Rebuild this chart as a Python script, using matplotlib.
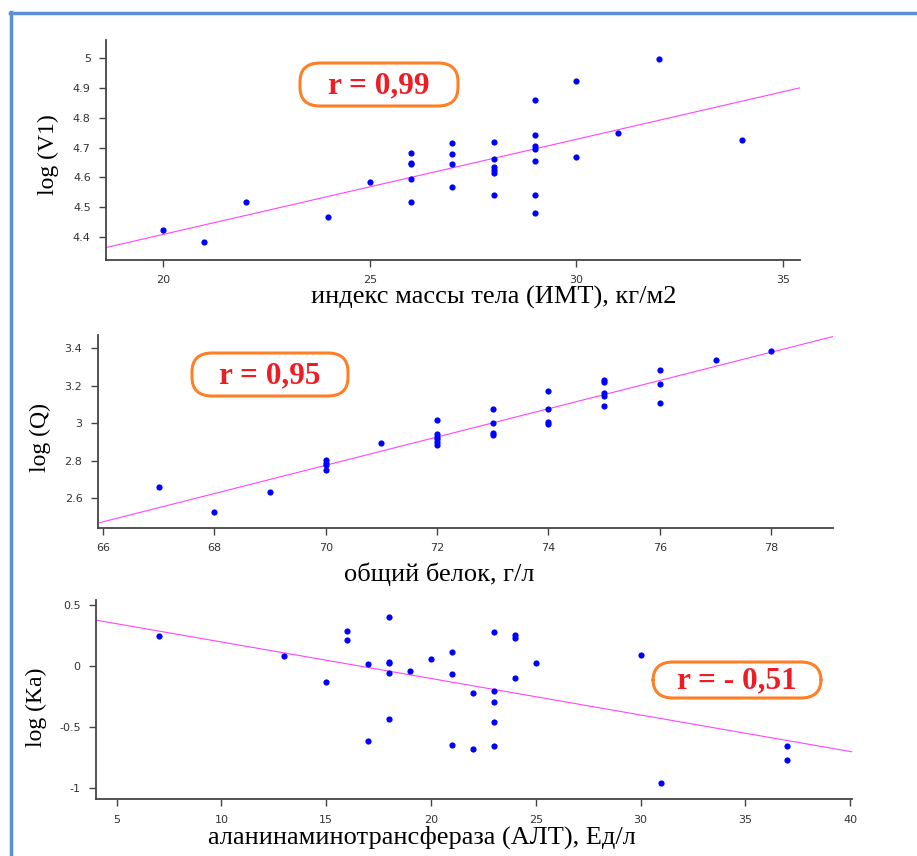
import numpy as np
import matplotlib
matplotlib.use('Agg')
import matplotlib.pyplot as plt
from matplotlib.patches import FancyBboxPatch
from matplotlib.lines import Line2D

# --- данные ---
imt_x = [20, 21, 22, 24, 25,
         26, 26, 26, 26, 26,
         27, 27, 27, 27,
         28, 28, 28, 28, 28, 28,
         29, 29, 29, 29, 29, 29, 29,
         30, 30, 31, 32, 34]
imt_y = [4.424, 4.381, 4.518, 4.465, 4.585,
         4.682, 4.648, 4.645, 4.594, 4.516,
         4.714, 4.679, 4.645, 4.568,
         4.720, 4.663, 4.635, 4.626, 4.616, 4.542,
         4.861, 4.743, 4.705, 4.697, 4.654, 4.542, 4.479,
         4.924, 4.669, 4.749, 4.999, 4.726]
imt_line = (3.768, 0.0320)   # intercept, slope

prot_x = [67, 68, 69,
          70, 70, 70, 70, 71,
          72, 72, 72, 72, 72, 72,
          73, 73, 73, 73,
          74, 74, 74, 74,
          75, 75, 75, 75, 75,
          76, 76, 76, 77, 78]
prot_y = [2.662, 2.525, 2.635,
          2.804, 2.790, 2.776, 2.751, 2.895,
          3.016, 2.945, 2.929, 2.916, 2.902, 2.884,
          3.075, 3.003, 2.947, 2.936,
          3.171, 3.075, 3.009, 2.998,
          3.231, 3.220, 3.160, 3.146, 3.092,
          3.283, 3.208, 3.108, 3.336, 3.386]
prot_line = (-2.502, 0.0754)

alt_x = [7, 13, 15, 16, 16, 17, 17,
         18, 18, 18, 18, 18, 19, 20,
         21, 21, 21, 22, 22,
         23, 23, 23, 23, 23,
         24, 24, 24, 25, 30, 31, 37, 37]
alt_y = [0.243, 0.079, -0.133, 0.284, 0.210, 0.014, -0.611,
         0.398, 0.033, 0.025, -0.057, -0.434, -0.043, 0.057,
         0.112, -0.068, -0.649, -0.221, -0.682,
         0.281, -0.202, -0.295, -0.458, -0.655,
         0.254, 0.227, -0.096, 0.027, 0.090, -0.957, -0.655, -0.772]
alt_line = (0.496, -0.02986)

W, H = 917, 856
fig = plt.figure(figsize=(W / 100, H / 100), dpi=100)
fig.patch.set_facecolor('white')

def fx(px):
    return px / W

def fy(py):
    return 1 - py / H

def make_axes(l, r, t, b):
    ax = fig.add_axes([fx(l), fy(b), fx(r - l), (b - t) / H])
    for s in ['top', 'right']:
        ax.spines[s].set_visible(False)
    for s in ['left', 'bottom']:
        ax.spines[s].set_color('#444444')
        ax.spines[s].set_linewidth(1.3)
    ax.tick_params(direction='out', length=5, width=1, color='#444444',
                   labelsize=8, labelcolor='#333333', pad=6)
    return ax

def draw(ax, x, y, line, xlim, ylim, xticks, yticks, xtl, ytl):
    ax.scatter(x, y, s=20, color='#0000ff', marker='o', linewidths=0, zorder=3)
    xx = np.array(xlim)
    ax.plot(xx, line[0] + line[1] * xx, color='#ff44ff', lw=0.8)
    ax.set_xlim(xlim)
    ax.set_ylim(ylim)
    ax.set_xticks(xticks)
    ax.set_xticklabels(xtl)
    ax.set_yticks(yticks)
    ax.set_yticklabels(ytl)

def rbox(l, r, t, b, text):
    p = FancyBboxPatch((fx(l), fy(b)), fx(r - l), (b - t) / H,
                       boxstyle='round,pad=0,rounding_size=0.022',
                       transform=fig.transFigure, fc='white', ec='#ff7f27',
                       lw=2.2, zorder=5)
    fig.patches.append(p)
    fig.text(fx((l + r) / 2), fy((t + b) / 2 + 1), text, ha='center', va='center',
             fontsize=22.5, fontweight='bold', color='#ee1c24',
             family='Liberation Serif', zorder=6)

serif = 'Liberation Serif'

# график 1
ax1 = make_axes(106, 800, 40, 260)
draw(ax1, imt_x, imt_y, imt_line, (18.62, 35.41), (4.322, 5.062),
     [20, 25, 30, 35], [4.4, 4.5, 4.6, 4.7, 4.8, 4.9, 5.0],
     ['20', '25', '30', '35'], ['4.4', '4.5', '4.6', '4.7', '4.8', '4.9', '5'])
fig.text(fx(494), fy(297), 'индекс массы тела (ИМТ), кг/м2', ha='center', va='center',
         fontsize=19, family=serif)
fig.text(fx(48), fy(155), 'log (V1)', ha='center', va='center', rotation=90,
         fontsize=17, family=serif)
rbox(300, 458, 63, 106, 'r = 0,99')

# график 2
ax2 = make_axes(97.7, 833, 335, 527.7)
draw(ax2, prot_x, prot_y, prot_line, (65.905, 79.11), (2.443, 3.471),
     [66, 68, 70, 72, 74, 76, 78], [2.6, 2.8, 3.0, 3.2, 3.4],
     ['66', '68', '70', '72', '74', '76', '78'], ['2.6', '2.8', '3', '3.2', '3.4'])
fig.text(fx(439), fy(574), 'общий белок, г/л', ha='center', va='center',
         fontsize=19, family=serif)
fig.text(fx(40), fy(438), 'log (Q)', ha='center', va='center', rotation=90,
         fontsize=17, family=serif)
rbox(192, 348, 353, 396, 'r = 0,95')

# график 3
ax3 = make_axes(96, 851.7, 600, 799.3)
draw(ax3, alt_x, alt_y, alt_line, (4.01, 40.08), (-1.090, 0.541),
     [5, 10, 15, 20, 25, 30, 35, 40], [-1, -0.5, 0, 0.5],
     ['5', '10', '15', '20', '25', '30', '35', '40'], ['-1', '-0.5', '0', '0.5'])
fig.text(fx(422), fy(837), 'аланинаминотрансфераза (АЛТ), Ед/л', ha='center', va='center',
         fontsize=19, family=serif)
fig.text(fx(36), fy(707), 'log (Ka)', ha='center', va='center', rotation=90,
         fontsize=17, family=serif)
rbox(653, 821, 662, 698, 'r = - 0,51')

# синяя рамка
fig.lines.append(Line2D([fx(10), 1], [fy(12.5), fy(12.5)], transform=fig.transFigure,
                        color='#5b8fd6', lw=2.5))
fig.lines.append(Line2D([fx(11), fx(11)], [fy(11.5), 0], transform=fig.transFigure,
                        color='#5b8fd6', lw=2.5))

fig.savefig('out.png', dpi=100)
